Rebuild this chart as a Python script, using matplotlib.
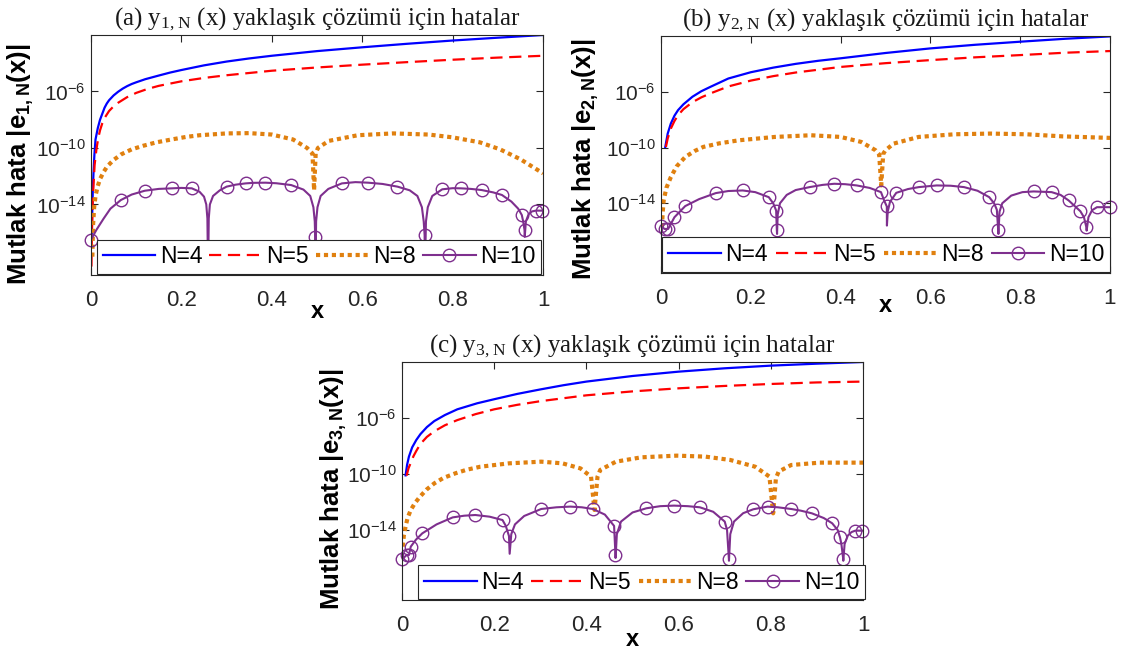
import numpy as np
import matplotlib.pyplot as plt
from matplotlib.ticker import NullLocator

plt.rcParams['font.family'] = 'Liberation Sans'
plt.rcParams['mathtext.fontset'] = 'custom'
plt.rcParams['mathtext.rm'] = 'Liberation Sans'
plt.rcParams['axes.unicode_minus'] = False

# all errors are stored as log10|e(x)|

# (a) y1,N
x4_a = [0.0015, 0.0025, 0.004, 0.0055, 0.0075, 0.01, 0.015, 0.02, 0.03, 0.035, 0.04, 0.05, 0.06, 0.07, 0.08,
        0.09, 0.1, 0.12, 0.15, 0.175, 0.2, 0.25, 0.3, 0.35, 0.4, 0.5, 0.6, 0.7, 0.8, 0.9, 1.0]
e4_a = [-16.5, -14.9, -13.0, -11.8, -10.5, -9.4, -8.6, -8.0, -7.15, -6.85, -6.62, -6.28, -6.02, -5.8, -5.62,
        -5.47, -5.35, -5.13, -4.87, -4.66, -4.48, -4.15, -3.88, -3.66, -3.47, -3.14, -2.87, -2.62, -2.39, -2.19, -2.0]
x5_a = [0.001, 0.002, 0.004, 0.008, 0.012, 0.016, 0.02, 0.025, 0.03, 0.04, 0.05, 0.06, 0.08, 0.1, 0.125, 0.15,
        0.2, 0.25, 0.3, 0.4, 0.5, 0.6, 0.7, 0.8, 0.9, 1.0]
e5_a = [-18.4, -16.0, -13.6, -11.2, -10.1, -9.3, -8.75, -8.25, -7.88, -7.38, -7.05, -6.8, -6.4, -6.1, -5.82, -5.6,
        -5.28, -5.04, -4.85, -4.53, -4.3, -4.1, -3.92, -3.75, -3.6, -3.47]
x8_a = [0.003, 0.0045, 0.007, 0.01, 0.015, 0.02, 0.028, 0.036, 0.05, 0.067, 0.09, 0.115, 0.145, 0.178, 0.21,
        0.24, 0.3, 0.35, 0.4, 0.447, 0.478, 0.49, 0.4935, 0.497, 0.502, 0.526, 0.59, 0.668, 0.747, 0.8, 0.86,
        0.905, 0.95, 1.0]
e8_a = [-17.7, -15.5, -14.2, -13.4, -12.7, -12.2, -11.7, -11.3, -10.85, -10.45, -10.1, -9.85, -9.6, -9.4, -9.22,
        -9.1, -8.97, -8.95, -9.05, -9.4, -10.0, -10.4, -13.0, -10.4, -10.0, -9.5, -9.1, -8.97, -9.05, -9.25, -9.6,
        -10.1, -10.8, -11.8]
# N=10: points with circles, then extra points of the curve
mx10_a = [0.0, 0.066, 0.119, 0.18, 0.223, 0.3, 0.342, 0.386, 0.443, 0.496, 0.555, 0.613, 0.678, 0.738,
          0.777, 0.818, 0.864, 0.909, 0.953, 0.959, 0.984, 0.998]
me10_a = [-16.5, -13.69, -13.03, -12.86, -12.86, -12.74, -12.51, -12.46, -12.63, -16.33, -12.51, -12.46, -12.74, -16.17,
          -12.93, -12.86, -12.98, -13.33, -14.75, -15.81, -14.44, -14.44]
lx10_a = [0.012, 0.028, 0.043, 0.09, 0.15, 0.2, 0.24, 0.25, 0.255, 0.2575, 0.259, 0.2605, 0.263, 0.27, 0.285,
          0.32, 0.36, 0.41, 0.47, 0.485, 0.492, 0.495, 0.4965, 0.498, 0.501, 0.508, 0.525, 0.585, 0.645, 0.705,
          0.722, 0.732, 0.736, 0.7385, 0.741, 0.745, 0.755, 0.8, 0.84, 0.89, 0.93, 0.945, 0.956, 0.9595, 0.962,
          0.968, 0.975, 1.0]
le10_a = [-15.8, -15.0, -14.3, -13.3, -12.9, -12.83, -13.1, -13.45, -14.0, -15.0, -19.0, -15.0, -14.0, -13.4, -13.0,
          -12.6, -12.47, -12.5, -12.95, -13.4, -14.2, -15.2, -19.0, -15.2, -14.2, -13.4, -12.9, -12.42, -12.55, -13.0,
          -13.4, -14.2, -15.2, -19.0, -15.2, -14.2, -13.4, -12.85, -12.9, -13.15, -13.8, -14.3, -15.2, -16.3, -15.2,
          -14.7, -14.5, -14.44]

# (b) y2,N
x4_b = [0.0096, 0.015, 0.022, 0.03, 0.038, 0.05, 0.07, 0.09, 0.11, 0.15, 0.2, 0.25, 0.3, 0.35, 0.4, 0.5, 0.6,
        0.7, 0.8, 0.9, 1.0]
e4_b = [-9.96, -9.0, -8.28, -7.72, -7.32, -6.9, -6.36, -5.96, -5.65, -5.05, -4.6, -4.27, -4.0, -3.78, -3.6, -3.22,
        -2.89, -2.63, -2.41, -2.2, -2.03]
x5_b = [0.011, 0.015, 0.022, 0.03, 0.038, 0.05, 0.07, 0.09, 0.11, 0.15, 0.2, 0.25, 0.3, 0.4, 0.5, 0.6, 0.7,
        0.8, 0.9, 1.0]
e5_b = [-9.96, -9.35, -8.64, -8.1, -7.68, -7.25, -6.75, -6.4, -6.12, -5.62, -5.2, -4.88, -4.62, -4.22, -3.95,
        -3.73, -3.53, -3.37, -3.2, -3.08]
x8_b = [0.002, 0.004, 0.006, 0.012, 0.022, 0.035, 0.054, 0.075, 0.094, 0.13, 0.174, 0.254, 0.334, 0.4, 0.446,
        0.478, 0.486, 0.4905, 0.495, 0.5, 0.518, 0.574, 0.654, 0.734, 0.814, 0.894, 1.0]
e8_b = [-15.72, -14.6, -13.8, -12.9, -12.12, -11.35, -10.68, -10.25, -9.96, -9.7, -9.48, -9.24, -9.12, -9.24,
        -9.6, -10.2, -10.5, -12.72, -10.45, -10.2, -9.72, -9.24, -9.05, -9.0, -9.05, -9.2, -9.31]
mx10_b = [0.0, 0.008, 0.016, 0.03, 0.054, 0.122, 0.182, 0.24, 0.2565, 0.258, 0.331, 0.386, 0.436, 0.49, 0.503,
          0.524, 0.574, 0.614, 0.675, 0.731, 0.748, 0.751, 0.83, 0.87, 0.908, 0.934, 0.947, 0.971, 1.0]
me10_b = [-15.65, -15.84, -15.84, -15.0, -14.2, -13.27, -13.08, -13.56, -14.52, -15.89, -12.84, -12.6, -12.72, -13.2, -14.23,
          -13.25, -12.84, -12.72, -12.84, -13.56, -14.47, -15.91, -13.15, -13.2, -13.8, -14.57, -15.67, -14.28, -14.28]
lx10_b = [0.085, 0.15, 0.21, 0.25, 0.2585, 0.26, 0.265, 0.28, 0.3, 0.36, 0.41, 0.465, 0.497, 0.5032, 0.505,
          0.51, 0.55, 0.645, 0.705, 0.742, 0.7515, 0.754, 0.76, 0.78, 0.805, 0.89, 0.942, 0.948, 0.952, 0.96]
le10_b = [-13.7, -13.12, -13.2, -14.0, -16.2, -14.8, -14.0, -13.4, -13.05, -12.68, -12.63, -12.9, -13.8, -15.6, -14.6,
          -13.9, -12.98, -12.74, -13.1, -14.0, -16.2, -14.6, -14.0, -13.45, -13.2, -13.4, -15.0, -15.96, -15.0, -14.5]

# (c) y3,N
x4_c = [0.0077, 0.011, 0.015, 0.022, 0.031, 0.04, 0.054, 0.07, 0.093, 0.12, 0.163, 0.2, 0.25, 0.3, 0.35, 0.4,
        0.5, 0.6, 0.7, 0.8, 0.9, 1.0]
e4_c = [-10.1, -9.35, -8.76, -8.1, -7.57, -7.15, -6.65, -6.22, -5.79, -5.38, -4.95, -4.66, -4.28, -3.96, -3.66,
        -3.4, -3.0, -2.69, -2.45, -2.26, -2.12, -2.0]
x5_c = [0.01, 0.014, 0.019, 0.025, 0.031, 0.04, 0.054, 0.07, 0.093, 0.12, 0.16, 0.2, 0.25, 0.3, 0.4, 0.5, 0.6,
        0.7, 0.8, 0.9, 1.0]
e5_c = [-10.12, -9.6, -9.2, -8.72, -8.35, -7.85, -7.35, -6.95, -6.52, -6.15, -5.72, -5.38, -5.06, -4.8, -4.38,
        -4.1, -3.88, -3.71, -3.57, -3.46, -3.4]
x8_c = [0.0015, 0.004, 0.0077, 0.012, 0.019, 0.028, 0.039, 0.053, 0.07, 0.09, 0.116, 0.14, 0.17, 0.232, 0.302,
        0.348, 0.387, 0.41, 0.4175, 0.424, 0.43, 0.464, 0.519, 0.596, 0.658, 0.712, 0.766, 0.797, 0.805, 0.811,
        0.817, 0.844, 0.906, 1.0]
e8_c = [-15.19, -14.4, -13.76, -13.15, -12.57, -12.08, -11.62, -11.12, -10.67, -10.28, -9.95, -9.7, -9.48, -9.24,
        -9.12, -9.24, -9.6, -10.19, -12.57, -10.2, -9.71, -9.12, -8.81, -8.69, -8.76, -9.0, -9.48, -10.19, -12.81,
        -10.3, -9.83, -9.36, -9.19, -9.19]
mx10_c = [0.0, 0.01, 0.015, 0.019, 0.044, 0.11, 0.159, 0.218, 0.232, 0.302, 0.365, 0.414, 0.46, 0.463,
          0.53, 0.59, 0.646, 0.7, 0.709, 0.762, 0.793, 0.844, 0.889, 0.933, 0.95, 0.957, 0.983, 0.998]
me10_c = [-16.1, -15.79, -15.79, -15.19, -14.24, -13.1, -12.93, -13.29, -14.43, -12.5, -12.33, -12.5, -13.71, -15.79,
          -12.45, -12.26, -12.38, -13.4, -16.07, -12.52, -12.33, -12.5, -12.81, -13.52, -14.52, -16.07, -14.05, -14.05]
lx10_c = [0.03, 0.075, 0.135, 0.19, 0.225, 0.2335, 0.237, 0.245, 0.265, 0.335, 0.39, 0.44, 0.4632, 0.466, 0.475,
          0.5, 0.56, 0.62, 0.675, 0.705, 0.7092, 0.712, 0.72, 0.74, 0.815, 0.865, 0.915, 0.945, 0.953, 0.9572,
          0.96, 0.967, 0.975, 1.0]
le10_c = [-14.7, -13.6, -12.98, -13.05, -13.7, -15.7, -14.3, -13.6, -13.0, -12.38, -12.38, -12.9, -16.0, -14.3, -13.4,
          -12.75, -12.3, -12.3, -12.7, -14.0, -16.2, -14.3, -13.4, -12.8, -12.38, -12.62, -13.15, -14.0, -15.0, -16.2,
          -15.0, -14.4, -14.15, -14.05]

labels = ['N=4', 'N=5', 'N=8', 'N=10']
xticks = [0, 0.2, 0.4, 0.6, 0.8, 1]
xticklabels = ['0', '0.2', '0.4', '0.6', '0.8', '1']

BLUE = '#0000FF'
RED = '#FF0000'
ORANGE = '#E0800F'
PURPLE = '#7E2F8E'
DARK = '#262626'

fig = plt.figure(figsize=(11.22, 6.52), dpi=100)


def pow10(v):
    return 10.0 ** np.asarray(v, dtype=float)


def draw_panel(rect, tag, k, n4, n5, n8, n10_marks, n10_extra, leg_box, ylab_xy, xlab_y):
    ax = fig.add_axes(rect)
    ax.set_yscale('log')

    l4, = ax.plot(n4[0], pow10(n4[1]), color=BLUE, lw=1.6)
    l5, = ax.plot(n5[0], pow10(n5[1]), color=RED, lw=1.6, dashes=(5.5, 3.0))
    l8, = ax.plot(n8[0], pow10(n8[1]), color=ORANGE, lw=3.0, dashes=(1.0, 0.9))

    # N=10 curve runs through the circled points and the extra points
    xs = np.concatenate([n10_marks[0], n10_extra[0]])
    ys = np.concatenate([n10_marks[1], n10_extra[1]])
    order = np.argsort(xs, kind='stable')
    l10, = ax.plot(xs[order], pow10(ys[order]), color=PURPLE, lw=1.5)
    m10, = ax.plot(n10_marks[0], pow10(n10_marks[1]), ls='none', marker='o', ms=9,
                   mfc='none', mec=PURPLE, mew=1.0, clip_on=False)

    ax.set_xlim(0, 1)
    ax.set_ylim(1e-19, 1e-2)
    ax.set_xticks(xticks, xticklabels)
    ax.set_yticks([1e-14, 1e-10, 1e-6])
    ax.yaxis.set_minor_locator(NullLocator())
    ax.tick_params(direction='in', top=True, right=True, length=5, width=0.8,
                   color=DARK, labelcolor=DARK)
    ax.tick_params(axis='x', pad=11, labelsize=16)
    ax.tick_params(axis='y', pad=4, labelsize=15)
    for s in ax.spines.values():
        s.set_color(DARK)
        s.set_linewidth(0.8)

    ax.set_title('(%s) $\\mathregular{y_{%d,N}}$ (x) yaklaşık çözümü için hatalar' % (tag, k),
                 fontfamily='Liberation Serif', fontsize=18, pad=7, color='#1a1a1a')
    ax.set_ylabel('Mutlak hata |$\\mathregular{e_{%d,N}}$(x)|' % k, fontsize=18.5, fontweight='bold')
    ax.yaxis.set_label_coords(*ylab_xy)
    ax.set_xlabel('x', fontsize=17, fontweight='bold')
    ax.xaxis.set_label_coords(0.5, xlab_y)

    leg = ax.legend([l4, l5, l8, (l10, m10)], labels, loc='lower left', bbox_to_anchor=leg_box,
                    mode='expand', ncol=4, fontsize=16.5, handlelength=2.3, handletextpad=0.2,
                    borderpad=0.25, borderaxespad=0, fancybox=False, framealpha=1,
                    edgecolor=DARK)
    leg.get_frame().set_linewidth(0.8)
    return ax


draw_panel([0.0811, 0.5782, 0.4029, 0.3681], 'a', 1,
           (x4_a, e4_a), (x5_a, e5_a), (x8_a, e8_a), (mx10_a, me10_a), (lx10_a, le10_a),
           (0.013, 0.004, 0.983, 0.154), (-0.122, 0.46), -0.104)
draw_panel([0.5891, 0.5813, 0.4002, 0.3635], 'b', 2,
           (x4_b, e4_b), (x5_b, e5_b), (x8_b, e8_b), (mx10_b, me10_b), (lx10_b, le10_b),
           (0.003, 0.005, 0.997, 0.163), (-0.134, 0.48), -0.089)
draw_panel([0.3583, 0.0798, 0.4109, 0.3650], 'c', 3,
           (x4_c, e4_c), (x5_c, e5_c), (x8_c, e8_c), (mx10_c, me10_c), (lx10_c, le10_c),
           (0.035, 0.003, 0.969, 0.154), (-0.115, 0.466), -0.118)

fig.savefig('out.png', dpi=100)
